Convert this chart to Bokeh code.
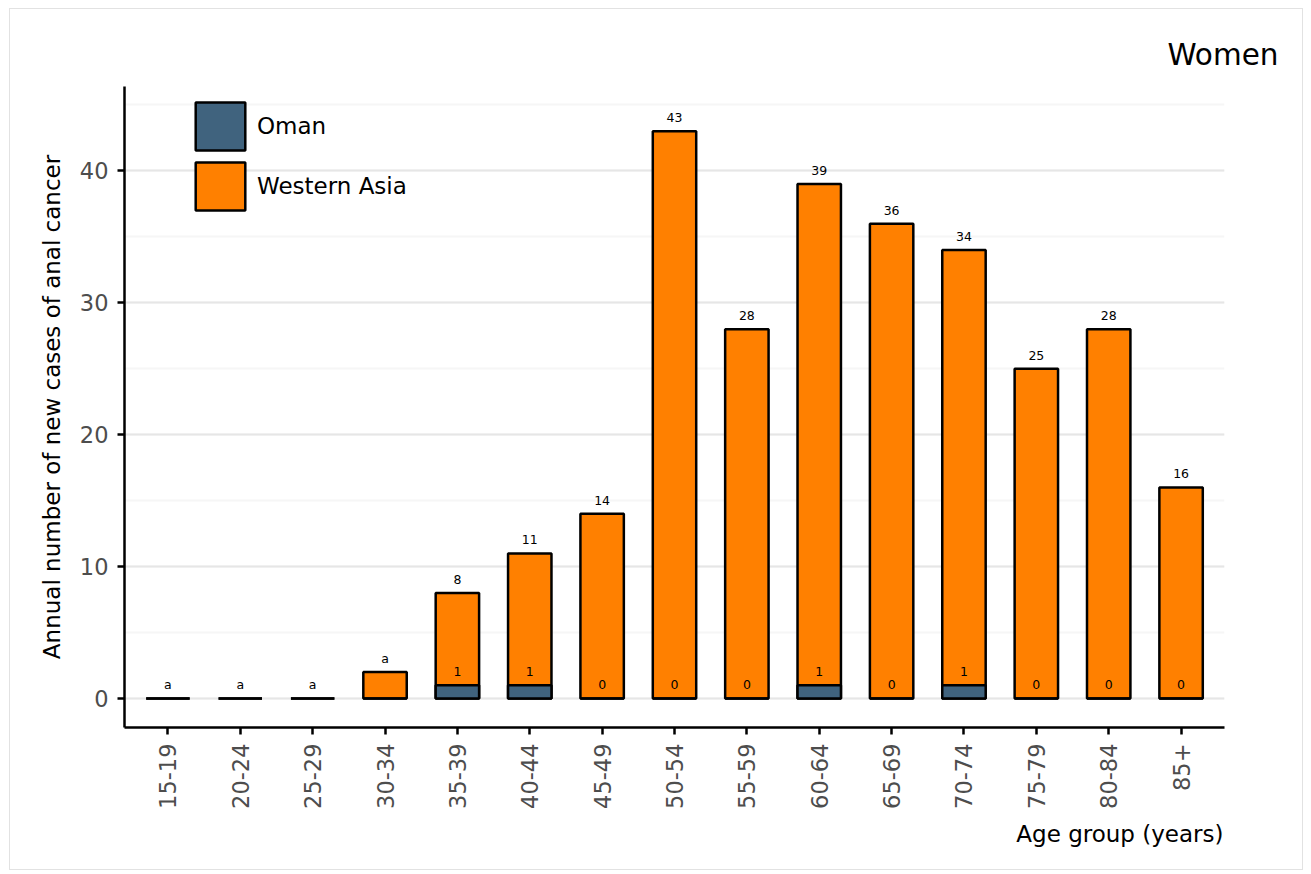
from math import pi
from bokeh.plotting import figure
from bokeh.models import (FactorRange, Range1d, ColumnDataSource, LabelSet, Legend,
                          LegendItem, SingleIntervalTicker, Title)
from bokeh.core.properties import value
from bokeh.embed import file_html
from bokeh.resources import INLINE

age_groups = ["15-19", "20-24", "25-29", "30-34", "35-39", "40-44", "45-49", "50-54",
              "55-59", "60-64", "65-69", "70-74", "75-79", "80-84", "85+"]
western_asia = [0, 0, 0, 2, 8, 11, 14, 43, 28, 39, 36, 34, 25, 28, 16]
oman = [0, 0, 0, 0, 1, 1, 0, 0, 0, 1, 0, 1, 0, 0, 0]
western_asia_labels = ["a", "a", "a", "a", "8", "11", "14", "43", "28", "39", "36", "34", "25", "28", "16"]
oman_labels = ["", "", "", "", "1", "1", "0", "0", "0", "1", "0", "1", "0", "0", "0"]

FONT = "DejaVu Sans"
OMAN_COLOR = "#40637E"
WA_COLOR = "#FF8000"

src = ColumnDataSource(dict(age=age_groups, wa=western_asia, om=oman,
                            wal=western_asia_labels, oml=oman_labels))

p = figure(width=1294, height=862,
           x_range=FactorRange(*age_groups, range_padding=0.1, range_padding_units="absolute"),
           y_range=Range1d(-2.2, 46.4),
           output_backend="svg", toolbar_location=None,
           min_border_left=114, min_border_right=80, min_border_top=77, min_border_bottom=144)
p.outline_line_color = None
p.background_fill_color = "white"
p.border_fill_color = "white"
p.styles = {"margin": "8px 0px 0px 9px", "border": "1px solid #e2e2e2"}

ticker = SingleIntervalTicker(interval=10, num_minor_ticks=2)
p.yaxis.ticker = ticker
p.ygrid.ticker = ticker
p.xgrid.grid_line_color = None
p.ygrid.grid_line_color = "#e6e6e6"
p.ygrid.grid_line_width = 2
p.ygrid.minor_grid_line_color = "#f6f6f6"
p.ygrid.minor_grid_line_width = 2

for ax in (p.xaxis, p.yaxis):
    ax.axis_line_color = "black"
    ax.axis_line_width = 2.5
    ax.major_tick_line_color = "black"
    ax.major_tick_line_width = 2.5
    ax.major_tick_out = 7
    ax.major_tick_in = 0
    ax.minor_tick_line_color = None
    ax.major_label_text_color = "#4d4d4d"
    ax.major_label_text_font = FONT
    ax.major_label_text_font_size = "22.5px"
    ax.major_label_standoff = 9

p.xaxis.major_label_orientation = pi / 2
p.yaxis.axis_label = "Annual number of new cases of anal cancer"
p.yaxis.axis_label_text_font = FONT
p.yaxis.axis_label_text_font_size = "23px"
p.yaxis.axis_label_text_font_style = "normal"
p.yaxis.axis_label_text_color = "black"
p.yaxis.axis_label_standoff = 12

r_wa = p.vbar(x="age", top="wa", bottom=0, width=0.6, source=src,
              fill_color=WA_COLOR, line_color="black", line_width=2.5)
r_om = p.vbar(x="age", top="om", bottom=0, width=0.6, source=src,
              fill_color=OMAN_COLOR, line_color="black", line_width=2.5)

p.add_layout(LabelSet(x="age", y="wa", text="wal", source=src, text_align="center",
                      text_baseline="alphabetic", y_offset=9, text_font=value(FONT),
                      text_font_size="12.5px", text_color="black"))
p.add_layout(LabelSet(x="age", y="om", text="oml", source=src, text_align="center",
                      text_baseline="alphabetic", y_offset=9, text_font=value(FONT),
                      text_font_size="12.5px", text_color="black"))

legend = Legend(items=[LegendItem(label="Oman", renderers=[r_om]),
                       LegendItem(label="Western Asia", renderers=[r_wa])],
                location=(65, 511), glyph_width=62, glyph_height=60,
                label_text_font=FONT, label_text_font_size="23px", label_text_color="black",
                label_standoff=6, spacing=0, padding=0, margin=0,
                border_line_color=None, background_fill_alpha=0)
p.add_layout(legend)

p.add_layout(Title(text="Age group (years)", align="right", offset=1, standoff=14,
                   text_font=FONT, text_font_size="23px", text_font_style="normal",
                   text_color="black"), "below")
p.add_layout(Title(text="Women", align="right", offset=-54, standoff=29,
                   text_font=FONT, text_font_size="29.5px", text_font_style="normal",
                   text_color="black"), "above")

open("out.html", "w").write(file_html(p, INLINE))
